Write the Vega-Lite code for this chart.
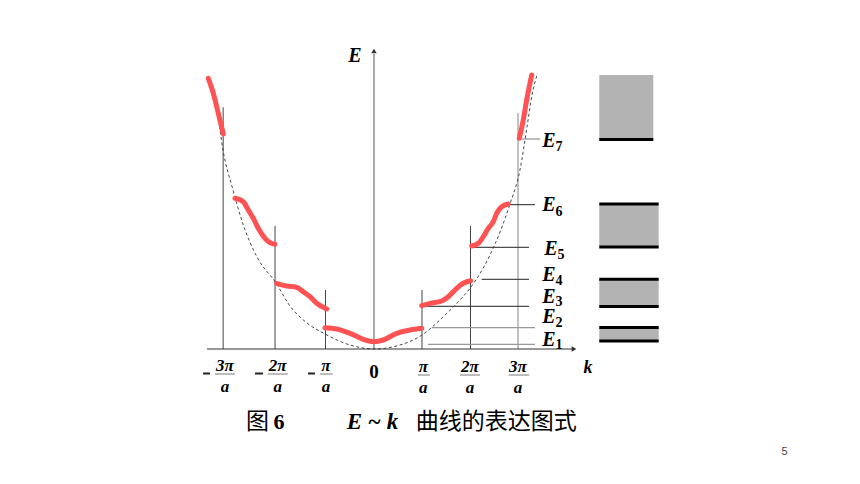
{
  "$schema": "https://vega.github.io/schema/vega-lite/v6.json",
  "width": 860,
  "height": 484,
  "autosize": {"type": "fit", "contains": "padding"},
  "padding": 0,
  "background": "white",
  "config": {"view": {"stroke": null}},
  "datasets": {
    "boxes": [
      {"k": 4.645, "k2": 5.759, "E": 20.9, "E2": 27.4},
      {"k": 4.645, "k2": 5.87, "E": 10.17, "E2": 14.5},
      {"k": 4.645, "k2": 5.87, "E": 4.23, "E2": 6.97},
      {"k": 4.645, "k2": 5.87, "E": 0.8, "E2": 2.17}
    ],
    "edges": [
      {"k": 4.645, "k2": 5.759, "E": 20.95},
      {"k": 4.645, "k2": 5.87, "E": 14.5},
      {"k": 4.645, "k2": 5.87, "E": 10.2},
      {"k": 4.645, "k2": 5.87, "E": 6.97},
      {"k": 4.645, "k2": 5.87, "E": 4.25},
      {"k": 4.645, "k2": 5.87, "E": 2.15},
      {"k": 4.645, "k2": 5.87, "E": 0.8}
    ],
    "vdark": [
      {"k": -3.11, "E": 0, "E2": 24.17},
      {"k": -2.04, "E": 0, "E2": 12.3},
      {"k": -1.0, "E": 0, "E2": 5.9},
      {"k": 0.99, "E": 0, "E2": 5.9},
      {"k": 1.99, "E": 0, "E2": 12.3}
    ],
    "vgray": [
      {"k": 2.97, "E": 0, "E2": 23.6}
    ],
    "hdark": [
      {"k": 0.983, "k2": 3.196, "E": 4.27},
      {"k": 2.22, "k2": 3.196, "E": 6.97},
      {"k": 1.994, "k2": 3.196, "E": 10.17},
      {"k": 2.736, "k2": 3.32, "E": 14.43}
    ],
    "hgray": [
      {"k": 1.113, "k2": 3.32, "E": 0.47},
      {"k": 1.19, "k2": 3.32, "E": 2.13},
      {"k": 2.969, "k2": 3.423, "E": 21.0}
    ],
    "kaxis": [{"k": -3.443, "k2": 4.1, "E": 0}],
    "eaxis": [{"k": 0, "E": 0, "E2": 29.5}],
    "arrowR": [{"k": 4.124, "E": 0}],
    "arrowU": [{"k": 0, "E": 29.8}],
    "para": [
      {"k": -3.423, "E": 27.1}, {"k": -3.237, "E": 23.9}, {"k": -3.113, "E": 19.9},
      {"k": -2.907, "E": 15.9}, {"k": -2.701, "E": 12.5}, {"k": -2.412, "E": 9.2},
      {"k": -2.021, "E": 6.6}, {"k": -1.732, "E": 4.3}, {"k": -1.381, "E": 2.6},
      {"k": -1.01, "E": 1.5}, {"k": -0.557, "E": 0.5}, {"k": 0, "E": 0},
      {"k": 0.536, "E": 0.4}, {"k": 0.99, "E": 1.4}, {"k": 1.423, "E": 3.2},
      {"k": 1.773, "E": 4.9}, {"k": 2.0, "E": 6.2}, {"k": 2.392, "E": 9.4},
      {"k": 2.804, "E": 14.5}, {"k": 3.01, "E": 17.9}, {"k": 3.155, "E": 22.2},
      {"k": 3.258, "E": 25.4}, {"k": 3.361, "E": 27.4}
    ],
    "curve": [
      {"seg": "b1", "k": -1.01, "E": 2.13}, {"seg": "b1", "k": -0.769, "E": 2.0},
      {"seg": "b1", "k": -0.495, "E": 1.57}, {"seg": "b1", "k": -0.221, "E": 0.97},
      {"seg": "b1", "k": -0.006, "E": 0.73}, {"seg": "b1", "k": 0.192, "E": 0.9},
      {"seg": "b1", "k": 0.468, "E": 1.57}, {"seg": "b1", "k": 0.742, "E": 1.9},
      {"seg": "b1", "k": 0.984, "E": 2.07},
      {"seg": "b2L", "k": -2.006, "E": 6.57}, {"seg": "b2L", "k": -1.8, "E": 6.3},
      {"seg": "b2L", "k": -1.594, "E": 6.17}, {"seg": "b2L", "k": -1.458, "E": 5.73},
      {"seg": "b2L", "k": -1.32, "E": 5.23}, {"seg": "b2L", "k": -1.181, "E": 4.57},
      {"seg": "b2L", "k": -0.975, "E": 4.0},
      {"seg": "b2R", "k": 0.984, "E": 4.33}, {"seg": "b2R", "k": 1.155, "E": 4.57},
      {"seg": "b2R", "k": 1.396, "E": 4.8}, {"seg": "b2R", "k": 1.532, "E": 5.23},
      {"seg": "b2R", "k": 1.705, "E": 6.07}, {"seg": "b2R", "k": 1.841, "E": 6.57},
      {"seg": "b2R", "k": 1.994, "E": 6.83},
      {"seg": "b3L", "k": -2.866, "E": 15.07}, {"seg": "b3L", "k": -2.695, "E": 14.73},
      {"seg": "b3L", "k": -2.592, "E": 13.9}, {"seg": "b3L", "k": -2.489, "E": 13.07},
      {"seg": "b3L", "k": -2.386, "E": 12.07}, {"seg": "b3L", "k": -2.247, "E": 11.07},
      {"seg": "b3L", "k": -2.144, "E": 10.63}, {"seg": "b3L", "k": -2.041, "E": 10.47},
      {"seg": "b3R", "k": 2.014, "E": 10.3}, {"seg": "b3R", "k": 2.151, "E": 10.57},
      {"seg": "b3R", "k": 2.254, "E": 11.23}, {"seg": "b3R", "k": 2.357, "E": 12.07},
      {"seg": "b3R", "k": 2.46, "E": 12.73}, {"seg": "b3R", "k": 2.53, "E": 13.57},
      {"seg": "b3R", "k": 2.633, "E": 14.23}, {"seg": "b3R", "k": 2.769, "E": 14.5},
      {"seg": "b4L", "k": -3.416, "E": 27.07}, {"seg": "b4L", "k": -3.313, "E": 25.57},
      {"seg": "b4L", "k": -3.21, "E": 23.57}, {"seg": "b4L", "k": -3.107, "E": 21.5},
      {"seg": "b4R", "k": 2.996, "E": 21.07}, {"seg": "b4R", "k": 3.078, "E": 22.9},
      {"seg": "b4R", "k": 3.148, "E": 24.9}, {"seg": "b4R", "k": 3.252, "E": 27.4}
    ],
    "numer": [
      {"k": -3.072, "E": -1.7, "t": "3π"}, {"k": -1.986, "E": -1.7, "t": "2π"},
      {"k": -0.99, "E": -1.7, "t": "π"}, {"k": 1.017, "E": -1.75, "t": "π"},
      {"k": 1.979, "E": -1.75, "t": "2π"}, {"k": 2.969, "E": -1.75, "t": "3π"}
    ],
    "denom": [
      {"k": -3.072, "E": -3.8, "t": "a"}, {"k": -1.986, "E": -3.8, "t": "a"},
      {"k": -0.99, "E": -3.8, "t": "a"}, {"k": 1.017, "E": -3.87, "t": "a"},
      {"k": 1.979, "E": -3.87, "t": "a"}, {"k": 2.969, "E": -3.87, "t": "a"}
    ],
    "fracbars": [
      {"k": -3.278, "k2": -2.866, "E": -2.5}, {"k": -2.192, "k2": -1.779, "E": -2.5},
      {"k": -1.113, "k2": -0.852, "E": -2.5}, {"k": 0.907, "k2": 1.155, "E": -2.6},
      {"k": 1.773, "k2": 2.186, "E": -2.6}, {"k": 2.777, "k2": 3.202, "E": -2.6}
    ],
    "minus": [
      {"k": -3.526, "k2": -3.381, "E": -2.45}, {"k": -2.454, "k2": -2.289, "E": -2.45},
      {"k": -1.361, "k2": -1.216, "E": -2.45}
    ],
    "zero": [{"k": 0, "E": -2.27, "t": "0"}],
    "klab": [{"k": 4.412, "E": -1.85, "t": "k"}],
    "elab": [{"k": -0.392, "E": 29.3, "t": "E"}],
    "levE": [
      {"k": 3.608, "E": 20.85, "t": "E"}, {"k": 3.608, "E": 14.4, "t": "E"},
      {"k": 3.649, "E": 10.0, "t": "E"}, {"k": 3.608, "E": 7.4, "t": "E"},
      {"k": 3.608, "E": 5.25, "t": "E"}, {"k": 3.608, "E": 3.2, "t": "E"},
      {"k": 3.608, "E": 0.93, "t": "E"}
    ],
    "levSub": [
      {"k": 3.814, "E": 20.2, "t": "7"}, {"k": 3.814, "E": 13.7, "t": "6"},
      {"k": 3.856, "E": 9.4, "t": "5"}, {"k": 3.814, "E": 6.8, "t": "4"},
      {"k": 3.814, "E": 4.7, "t": "3"}, {"k": 3.814, "E": 2.6, "t": "2"},
      {"k": 3.814, "E": 0.4, "t": "1"}
    ],
    "capCJK": [
      {"k": -2.402, "E": -7.3, "t": "图"},
      {"k": 2.52, "E": -7.3, "t": "曲线的表达图式"}
    ],
    "capNum": [{"k": -1.959, "E": -7.3, "t": "6"}],
    "capEk": [{"k": -0.031, "E": -7.3, "t": "E ~ k"}],
    "page": [{"k": 8.468, "E": -10.25, "t": "5"}]
  },
  "encoding": {
    "x": {"field": "k", "type": "quantitative", "scale": {"domain": [-7.711, 10.021], "nice": false, "zero": false}, "axis": null},
    "y": {"field": "E", "type": "quantitative", "scale": {"domain": [-13.5, 34.9], "nice": false, "zero": false}, "axis": null}
  },
  "layer": [
    {"data": {"name": "boxes"}, "mark": {"type": "rect", "color": "#b3b3b3"},
     "encoding": {"x2": {"field": "k2"}, "y2": {"field": "E2"}}},
    {"data": {"name": "edges"}, "mark": {"type": "rule", "color": "#000000", "strokeWidth": 3},
     "encoding": {"x2": {"field": "k2"}}},
    {"data": {"name": "vdark"}, "mark": {"type": "rule", "color": "#444444", "strokeWidth": 1},
     "encoding": {"y2": {"field": "E2"}}},
    {"data": {"name": "vgray"}, "mark": {"type": "rule", "color": "#999999", "strokeWidth": 1.2},
     "encoding": {"y2": {"field": "E2"}}},
    {"data": {"name": "hdark"}, "mark": {"type": "rule", "color": "#222222", "strokeWidth": 1},
     "encoding": {"x2": {"field": "k2"}}},
    {"data": {"name": "hgray"}, "mark": {"type": "rule", "color": "#999999", "strokeWidth": 1.3},
     "encoding": {"x2": {"field": "k2"}}},
    {"data": {"name": "kaxis"}, "mark": {"type": "rule", "color": "#333333", "strokeWidth": 1},
     "encoding": {"x2": {"field": "k2"}}},
    {"data": {"name": "eaxis"}, "mark": {"type": "rule", "color": "#555555", "strokeWidth": 1},
     "encoding": {"y2": {"field": "E2"}}},
    {"data": {"name": "arrowR"}, "mark": {"type": "point", "shape": "triangle-right", "filled": true, "color": "#333333", "size": 30, "opacity": 1}, "encoding": {}},
    {"data": {"name": "arrowU"}, "mark": {"type": "point", "shape": "triangle-up", "filled": true, "color": "#333333", "size": 30, "opacity": 1}, "encoding": {}},
    {"data": {"name": "para"}, "mark": {"type": "line", "color": "#333333", "strokeWidth": 0.9, "strokeDash": [3, 2.5], "interpolate": "monotone"}, "encoding": {}},
    {"data": {"name": "curve"}, "mark": {"type": "line", "color": "#ff5252", "strokeWidth": 5, "strokeCap": "round", "interpolate": "monotone"},
     "encoding": {"detail": {"field": "seg"}}},
    {"data": {"name": "fracbars"}, "mark": {"type": "rule", "color": "#999999", "strokeWidth": 1.3},
     "encoding": {"x2": {"field": "k2"}}},
    {"data": {"name": "minus"}, "mark": {"type": "rule", "color": "#222222", "strokeWidth": 2},
     "encoding": {"x2": {"field": "k2"}}},
    {"data": {"name": "numer"}, "mark": {"type": "text", "font": "Liberation Serif", "fontWeight": "bold", "fontStyle": "italic", "fontSize": 17, "color": "#000000", "align": "center", "baseline": "middle"},
     "encoding": {"text": {"field": "t"}}},
    {"data": {"name": "denom"}, "mark": {"type": "text", "font": "Liberation Serif", "fontWeight": "bold", "fontStyle": "italic", "fontSize": 17, "color": "#000000", "align": "center", "baseline": "middle"},
     "encoding": {"text": {"field": "t"}}},
    {"data": {"name": "zero"}, "mark": {"type": "text", "font": "Liberation Serif", "fontWeight": "bold", "fontSize": 19, "color": "#000000", "align": "center", "baseline": "middle"},
     "encoding": {"text": {"field": "t"}}},
    {"data": {"name": "klab"}, "mark": {"type": "text", "font": "Liberation Serif", "fontWeight": "bold", "fontStyle": "italic", "fontSize": 18, "color": "#000000", "align": "center", "baseline": "middle"},
     "encoding": {"text": {"field": "t"}}},
    {"data": {"name": "elab"}, "mark": {"type": "text", "font": "Liberation Serif", "fontWeight": "bold", "fontStyle": "italic", "fontSize": 20, "color": "#000000", "align": "center", "baseline": "middle"},
     "encoding": {"text": {"field": "t"}}},
    {"data": {"name": "levE"}, "mark": {"type": "text", "font": "Liberation Serif", "fontWeight": "bold", "fontStyle": "italic", "fontSize": 20, "color": "#000000", "align": "center", "baseline": "middle"},
     "encoding": {"text": {"field": "t"}}},
    {"data": {"name": "levSub"}, "mark": {"type": "text", "font": "Liberation Serif", "fontWeight": "bold", "fontSize": 14, "color": "#000000", "align": "center", "baseline": "middle"},
     "encoding": {"text": {"field": "t"}}},
    {"data": {"name": "capCJK"}, "mark": {"type": "text", "font": "Noto Sans CJK SC", "fontWeight": "normal", "fontSize": 23, "color": "#000000", "align": "center", "baseline": "middle"},
     "encoding": {"text": {"field": "t"}}},
    {"data": {"name": "capNum"}, "mark": {"type": "text", "font": "Liberation Serif", "fontWeight": "bold", "fontSize": 22, "color": "#000000", "align": "center", "baseline": "middle"},
     "encoding": {"text": {"field": "t"}}},
    {"data": {"name": "capEk"}, "mark": {"type": "text", "font": "Liberation Serif", "fontWeight": "bold", "fontStyle": "italic", "fontSize": 23, "color": "#000000", "align": "center", "baseline": "middle"},
     "encoding": {"text": {"field": "t"}}},
    {"data": {"name": "page"}, "mark": {"type": "text", "font": "Liberation Sans", "fontSize": 11, "color": "#444444", "align": "center", "baseline": "middle"},
     "encoding": {"text": {"field": "t"}}}
  ]
}
